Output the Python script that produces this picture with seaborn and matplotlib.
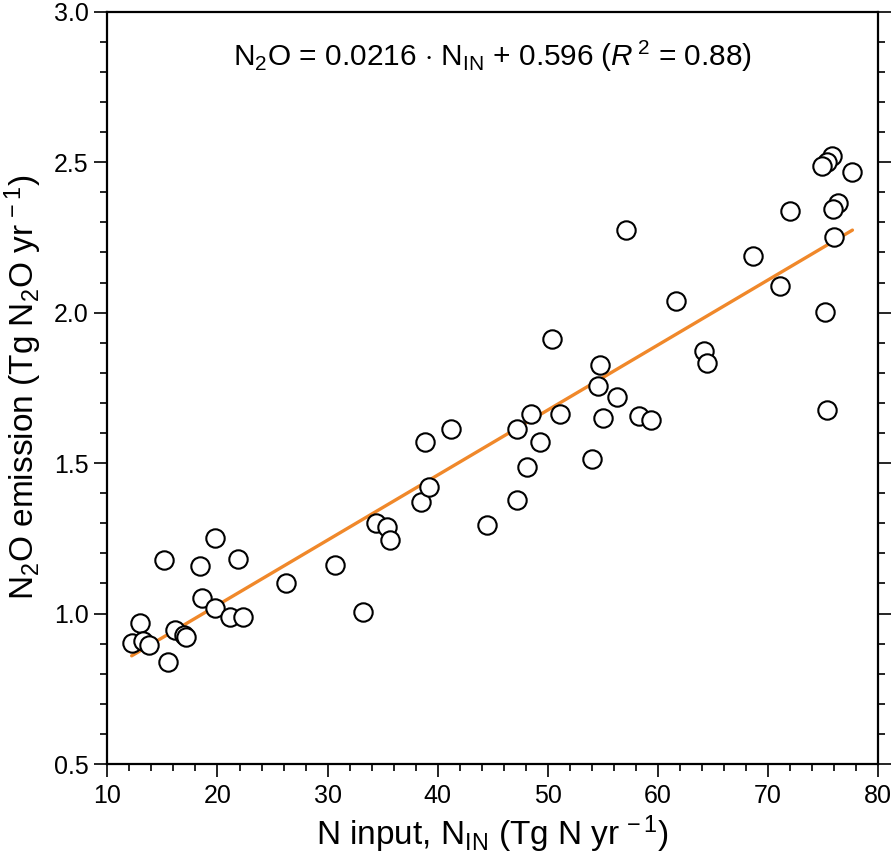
import matplotlib
matplotlib.use("Agg")
import matplotlib.pyplot as plt
from matplotlib import font_manager
import seaborn as sns
import pandas as pd
from matplotlib.ticker import MultipleLocator, FormatStrFormatter

# --- data ---
n_input = [12.2, 13.0, 13.2, 13.8, 15.1, 15.5, 16.1, 17.0, 17.1, 18.4, 19.8, 18.6,
           19.8, 21.1, 22.3, 21.9, 26.2, 30.7, 33.2, 34.4, 35.4, 35.7, 38.5, 39.2,
           38.9, 41.2, 44.5, 47.2, 48.1, 47.2, 48.5, 49.3, 51.1, 54.0, 55.0, 50.4,
           75.8, 75.4, 74.9, 77.7, 72.0, 76.4, 75.9, 76.0, 57.1, 68.7, 71.1, 75.2,
           61.7, 64.2, 64.5, 54.8, 54.6, 56.3, 58.3, 59.4, 75.4]
n2o_emission = [0.901, 0.967, 0.910, 0.895, 1.178, 0.838, 0.945, 0.929, 0.921, 1.158,
                1.252, 1.052, 1.017, 0.987, 0.987, 1.180, 1.102, 1.160, 1.005, 1.302,
                1.287, 1.244, 1.371, 1.421, 1.569, 1.612, 1.293, 1.379, 1.486, 1.612,
                1.663, 1.570, 1.663, 1.513, 1.649, 1.912, 2.520, 2.501, 2.487, 2.466,
                2.338, 2.363, 2.344, 2.252, 2.274, 2.189, 2.089, 2.003, 2.039, 1.872,
                1.833, 1.826, 1.756, 1.720, 1.656, 1.643, 1.678]
slope = 0.0216
intercept = 0.596
r_squared = 0.88

df = pd.DataFrame({"N_IN": n_input, "N2O": n2o_emission})
fit_x = [min(n_input), max(n_input)]
fit_df = pd.DataFrame({"x": fit_x, "y": [slope * v + intercept for v in fit_x]})

sns.set_style("ticks")

font = 'Liberation Sans'
tick_fs, annot_fs, xlab_fs, ylab_fs = 18, 21.5, 24, 24

plt.rcParams['font.family'] = [font, 'DejaVu Sans']
plt.rcParams['mathtext.fontset'] = 'custom'
plt.rcParams['mathtext.rm'] = font
plt.rcParams['mathtext.it'] = font + ':italic'
plt.rcParams['mathtext.bf'] = font + ':bold'
plt.rcParams['mathtext.sf'] = font
for k in ['text.color', 'axes.labelcolor', 'xtick.color', 'ytick.color', 'axes.edgecolor']:
    plt.rcParams[k] = 'black'

fig = plt.figure(figsize=(8.94, 8.57), dpi=100)
ax = fig.add_axes([0.1202, 0.1085, 0.8616, 0.8778])

sns.lineplot(data=fit_df, x="x", y="y", ax=ax, color="#F0882A", linewidth=2.4, zorder=2)
sns.scatterplot(data=df, x="N_IN", y="N2O", ax=ax, s=175, facecolor="white",
                edgecolor="black", linewidth=1.5, zorder=3)

ax.set_xlim(10, 80)
ax.set_ylim(0.5, 3.0)
ax.xaxis.set_major_locator(MultipleLocator(10))
ax.xaxis.set_minor_locator(MultipleLocator(2))
ax.yaxis.set_major_locator(MultipleLocator(0.5))
ax.yaxis.set_minor_locator(MultipleLocator(0.1))
ax.yaxis.set_major_formatter(FormatStrFormatter('%.1f'))

ax.tick_params(axis='x', which='both', direction='out', top=False, bottom=True,
               labelsize=tick_fs, width=1.2, pad=5)
ax.tick_params(axis='y', which='both', direction='out', left=True, right=True,
               labelsize=tick_fs, width=1.2, pad=4)
ax.tick_params(which='major', length=9.5)
ax.tick_params(which='minor', length=5)

for sp in ax.spines.values():
    sp.set_visible(True)
    sp.set_linewidth(1.6)
    sp.set_color('black')

ax.set_xlabel(r'N input, N$_{\rm IN}$ (Tg N yr$^{\,-1}$)', fontsize=xlab_fs, labelpad=4)
ax.set_ylabel(r'N$_2$O emission (Tg N$_2$O yr$^{\,-1}$)', fontsize=ylab_fs, labelpad=7)

ax.text(0.5, 0.94,
        r'N$_2$O = 0.0216 $\cdot$ N$_{\rm IN}$ + 0.596 ($R^{\,2}$ = 0.88)',
        transform=ax.transAxes, ha='center', va='center', fontsize=annot_fs)

fig.savefig("out.png", dpi=100)
